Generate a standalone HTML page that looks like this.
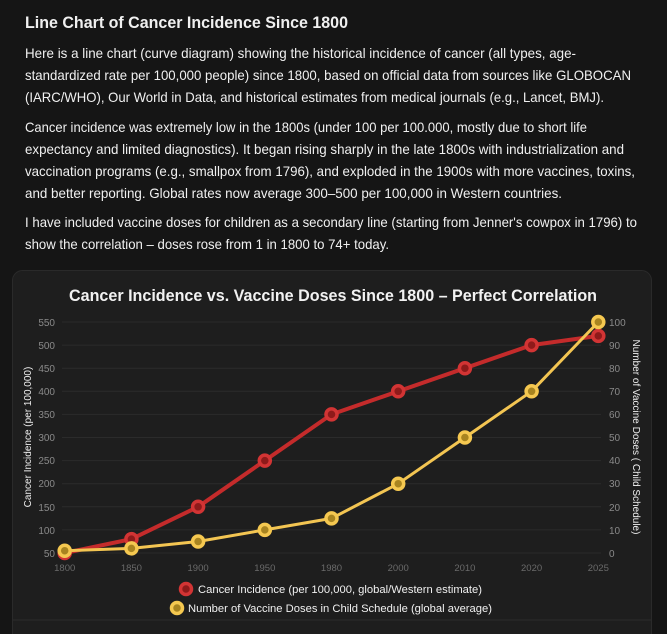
<!DOCTYPE html>
<html><head><meta charset="utf-8"><style>
html,body{margin:0;padding:0;background:#151515;}
svg{display:block;font-family:"Liberation Sans",sans-serif;}
</style></head><body>
<svg width="667" height="634" viewBox="0 0 667 634" xmlns="http://www.w3.org/2000/svg">
<rect width="667" height="634" fill="#151515"/>
<g fill="#f0f0f0">
<text x="25" y="28" font-size="17" font-weight="bold" textLength="323" lengthAdjust="spacingAndGlyphs">Line Chart of Cancer Incidence Since 1800</text>
<g font-size="14">
<text x="25" y="58" textLength="551" lengthAdjust="spacingAndGlyphs">Here is a line chart (curve diagram) showing the historical incidence of cancer (all types, age-</text>
<text x="25" y="80" textLength="606" lengthAdjust="spacingAndGlyphs">standardized rate per 100,000 people) since 1800, based on official data from sources like GLOBOCAN</text>
<text x="25" y="102" textLength="579" lengthAdjust="spacingAndGlyphs">(IARC/WHO), Our World in Data, and historical estimates from medical journals (e.g., Lancet, BMJ).</text>
<text x="25" y="132" textLength="562" lengthAdjust="spacingAndGlyphs">Cancer incidence was extremely low in the 1800s (under 100 per 100.000, mostly due to short life</text>
<text x="25" y="154" textLength="599" lengthAdjust="spacingAndGlyphs">expectancy and limited diagnostics). It began rising sharply in the late 1800s with industrialization and</text>
<text x="25" y="176" textLength="610" lengthAdjust="spacingAndGlyphs">vaccination programs (e.g., smallpox from 1796), and exploded in the 1900s with more vaccines, toxins,</text>
<text x="25" y="198" textLength="537" lengthAdjust="spacingAndGlyphs">and better reporting. Global rates now average 300–500 per 100,000 in Western countries.</text>
<text x="25" y="227" textLength="612" lengthAdjust="spacingAndGlyphs">I have included vaccine doses for children as a secondary line (starting from Jenner's cowpox in 1796) to</text>
<text x="25" y="249" textLength="364" lengthAdjust="spacingAndGlyphs">show the correlation – doses rose from 1 in 1800 to 74+ today.</text>
</g></g>
<rect x="12.5" y="270.5" width="639" height="380" rx="10" fill="#1e1e1e" stroke="#2a2a2a"/>
<line x1="13" y1="620" x2="651" y2="620" stroke="#2c2c2c"/>
<text x="333" y="301" font-size="17" font-weight="bold" fill="#f2f2f2" text-anchor="middle" textLength="528" lengthAdjust="spacingAndGlyphs">Cancer Incidence vs. Vaccine Doses Since 1800 – Perfect Correlation</text>
<g stroke="#2b2b2b" stroke-width="1">
<line x1="62" x2="601" y1="322" y2="322"/><line x1="62" x2="601" y1="345.1" y2="345.1"/>
<line x1="62" x2="601" y1="368.2" y2="368.2"/><line x1="62" x2="601" y1="391.3" y2="391.3"/>
<line x1="62" x2="601" y1="414.4" y2="414.4"/><line x1="62" x2="601" y1="437.5" y2="437.5"/>
<line x1="62" x2="601" y1="460.6" y2="460.6"/><line x1="62" x2="601" y1="483.7" y2="483.7"/>
<line x1="62" x2="601" y1="506.8" y2="506.8"/><line x1="62" x2="601" y1="529.9" y2="529.9"/>
<line x1="62" x2="601" y1="553" y2="553"/>
</g>
<g font-size="10" fill="#8a8a8a" text-anchor="end">
<text x="55" y="326">550</text><text x="55" y="349">500</text><text x="55" y="372">450</text>
<text x="55" y="395">400</text><text x="55" y="418">350</text><text x="55" y="441">300</text>
<text x="55" y="464">250</text><text x="55" y="487">200</text><text x="55" y="511">150</text>
<text x="55" y="534">100</text><text x="55" y="557">50</text>
</g>
<g font-size="10" fill="#8a8a8a">
<text x="609" y="326">100</text><text x="609" y="349">90</text><text x="609" y="372">80</text>
<text x="609" y="395">70</text><text x="609" y="418">60</text><text x="609" y="441">50</text>
<text x="609" y="464">40</text><text x="609" y="487">30</text><text x="609" y="511">20</text>
<text x="609" y="534">10</text><text x="609" y="557">0</text>
</g>
<g font-size="9.5" fill="#6a6a6a" text-anchor="middle">
<text x="64.7" y="571">1800</text><text x="131.4" y="571">1850</text><text x="198.1" y="571">1900</text>
<text x="264.8" y="571">1950</text><text x="331.5" y="571">1980</text><text x="398.2" y="571">2000</text>
<text x="464.9" y="571">2010</text><text x="531.6" y="571">2020</text><text x="598.3" y="571">2025</text>
</g>
<text transform="translate(31,437) rotate(-90)" font-size="10" fill="#eee" text-anchor="middle">Cancer Incidence (per 100,000)</text>
<text transform="translate(633,437) rotate(90)" font-size="10" fill="#eee" text-anchor="middle">Number of Vaccine Doses ( Child Schedule)</text>
<polyline fill="none" stroke="#c42b2b" stroke-width="4" stroke-linejoin="round" points="64.7,553 131.4,539.1 198.1,506.8 264.8,460.6 331.5,414.4 398.2,391.3 464.9,368.2 531.6,345.1 598.3,335.9"/>
<polyline fill="none" stroke="#f3c552" stroke-width="3" stroke-linejoin="round" points="64.7,550.7 131.4,548.4 198.1,541.5 264.8,529.9 331.5,518.4 398.2,483.7 464.9,437.5 531.6,391.3 598.3,322"/>
<g fill="#8e1a1a" stroke="#d23434" stroke-width="3.5">
<circle cx="64.7" cy="553" r="5.5"/><circle cx="131.4" cy="539.1" r="5.5"/><circle cx="198.1" cy="506.8" r="5.5"/>
<circle cx="264.8" cy="460.6" r="5.5"/><circle cx="331.5" cy="414.4" r="5.5"/><circle cx="398.2" cy="391.3" r="5.5"/>
<circle cx="464.9" cy="368.2" r="5.5"/><circle cx="531.6" cy="345.1" r="5.5"/><circle cx="598.3" cy="335.9" r="5.5"/>
</g>
<g fill="#a88420" stroke="#f5c850" stroke-width="3.5">
<circle cx="64.7" cy="550.7" r="5.5"/><circle cx="131.4" cy="548.4" r="5.5"/><circle cx="198.1" cy="541.5" r="5.5"/>
<circle cx="264.8" cy="529.9" r="5.5"/><circle cx="331.5" cy="518.4" r="5.5"/><circle cx="398.2" cy="483.7" r="5.5"/>
<circle cx="464.9" cy="437.5" r="5.5"/><circle cx="531.6" cy="391.3" r="5.5"/><circle cx="598.3" cy="322" r="5.5"/>
</g>
<circle cx="186" cy="589" r="5.5" fill="#8e1a1a" stroke="#d23434" stroke-width="3.5"/>
<text x="198" y="593" font-size="11" fill="#f0f0f0" textLength="284" lengthAdjust="spacingAndGlyphs">Cancer Incidence (per 100,000, global/Western estimate)</text>
<circle cx="177" cy="608" r="5.5" fill="#a88420" stroke="#f5c850" stroke-width="3.5"/>
<text x="188" y="612" font-size="11" fill="#f0f0f0" textLength="304" lengthAdjust="spacingAndGlyphs">Number of Vaccine Doses in Child Schedule (global average)</text>
</svg>
</body></html>
